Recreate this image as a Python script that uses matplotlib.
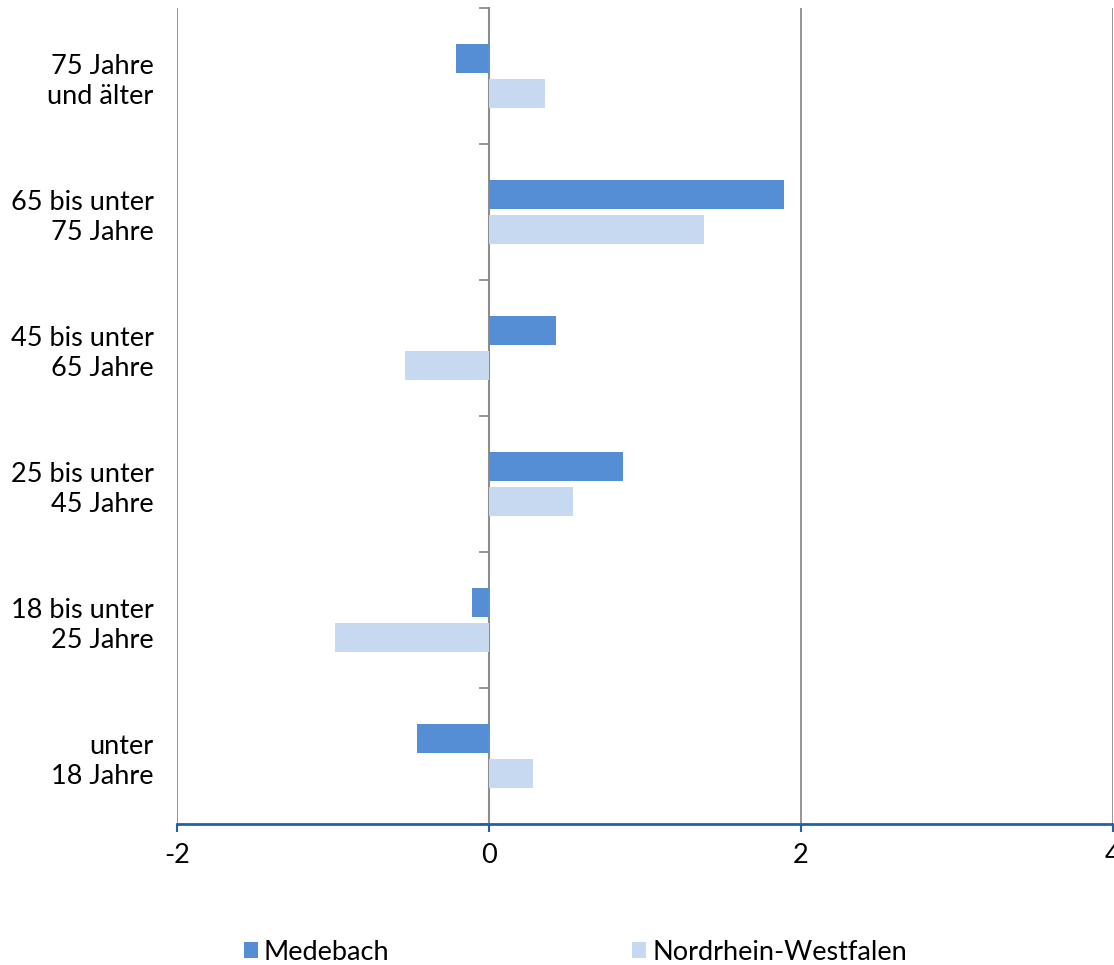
import matplotlib
matplotlib.use("Agg")
import matplotlib.pyplot as plt
from matplotlib.patches import Patch
import numpy as np

plt.rcParams['font.family'] = ['Lato', 'DejaVu Sans']

categories = ["unter\n18 Jahre", "18 bis unter\n25 Jahre", "25 bis unter\n45 Jahre",
              "45 bis unter\n65 Jahre", "65 bis unter\n75 Jahre", "75 Jahre\nund älter"]
medebach = [-0.46, -0.11, 0.86, 0.43, 1.89, -0.21]
nrw = [0.28, -0.99, 0.54, -0.54, 1.38, 0.36]
series_names = ["Medebach", "Nordrhein-Westfalen"]
xticks = [-2, 0, 2, 4]

c_med = "#558ED5"
c_nrw = "#C6D9F1"
grid_c = "#8C8C8C"
axis_blue = "#1F5FB4"
fs = 19.5

fig = plt.figure(figsize=(11.14, 9.65), dpi=100)
ax = fig.add_axes([177/1114, (965-824)/965, (1113-177)/1114, (824-8)/965])

y = np.arange(len(categories))
h = 0.213
off = 0.132
ax.barh(y + off, medebach, height=h, color=c_med, zorder=3)
ax.barh(y - off, nrw, height=h, color=c_nrw, zorder=3)

ax.set_xlim(-2, 4)
ax.set_ylim(-0.5, len(categories) - 0.5)
ax.set_xticks(xticks)
ax.set_xticklabels([str(v) for v in xticks], fontsize=fs)
ax.tick_params(axis='x', direction='out', length=6, width=1.5, color=axis_blue, pad=8)
ax.set_yticks(y)
ax.set_yticklabels(categories, fontsize=fs, linespacing=1.3)
ax.tick_params(axis='y', length=0, pad=17)

for s in ['top', 'right', 'left']:
    ax.spines[s].set_visible(False)
ax.spines['bottom'].set_color(axis_blue)
ax.spines['bottom'].set_linewidth(2)
ax.spines['bottom'].set_zorder(5)

for v in xticks:
    if v != 0:
        ax.axvline(v, color=grid_c, lw=1.3, zorder=1)

sec = ax.secondary_yaxis((0 - (-2)) / 6)
sec.set_yticks(np.arange(len(categories) + 1) - 0.5)
sec.set_yticklabels([])
sec.tick_params(axis='y', direction='out', length=7, width=1.3, color=grid_c)
sec.spines['left'].set_color(grid_c)
sec.spines['left'].set_linewidth(1.5)

handles = [Patch(facecolor=c_med, edgecolor='none'), Patch(facecolor=c_nrw, edgecolor='none')]
fig.legend(handles, series_names, loc='center', bbox_to_anchor=(0.5166, 13/965), ncol=2,
           frameon=False, fontsize=fs, handlelength=0.52, handleheight=0.52,
           handletextpad=0.22, columnspacing=8.96, borderaxespad=0, borderpad=0)

fig.savefig("out.png", dpi=100)
